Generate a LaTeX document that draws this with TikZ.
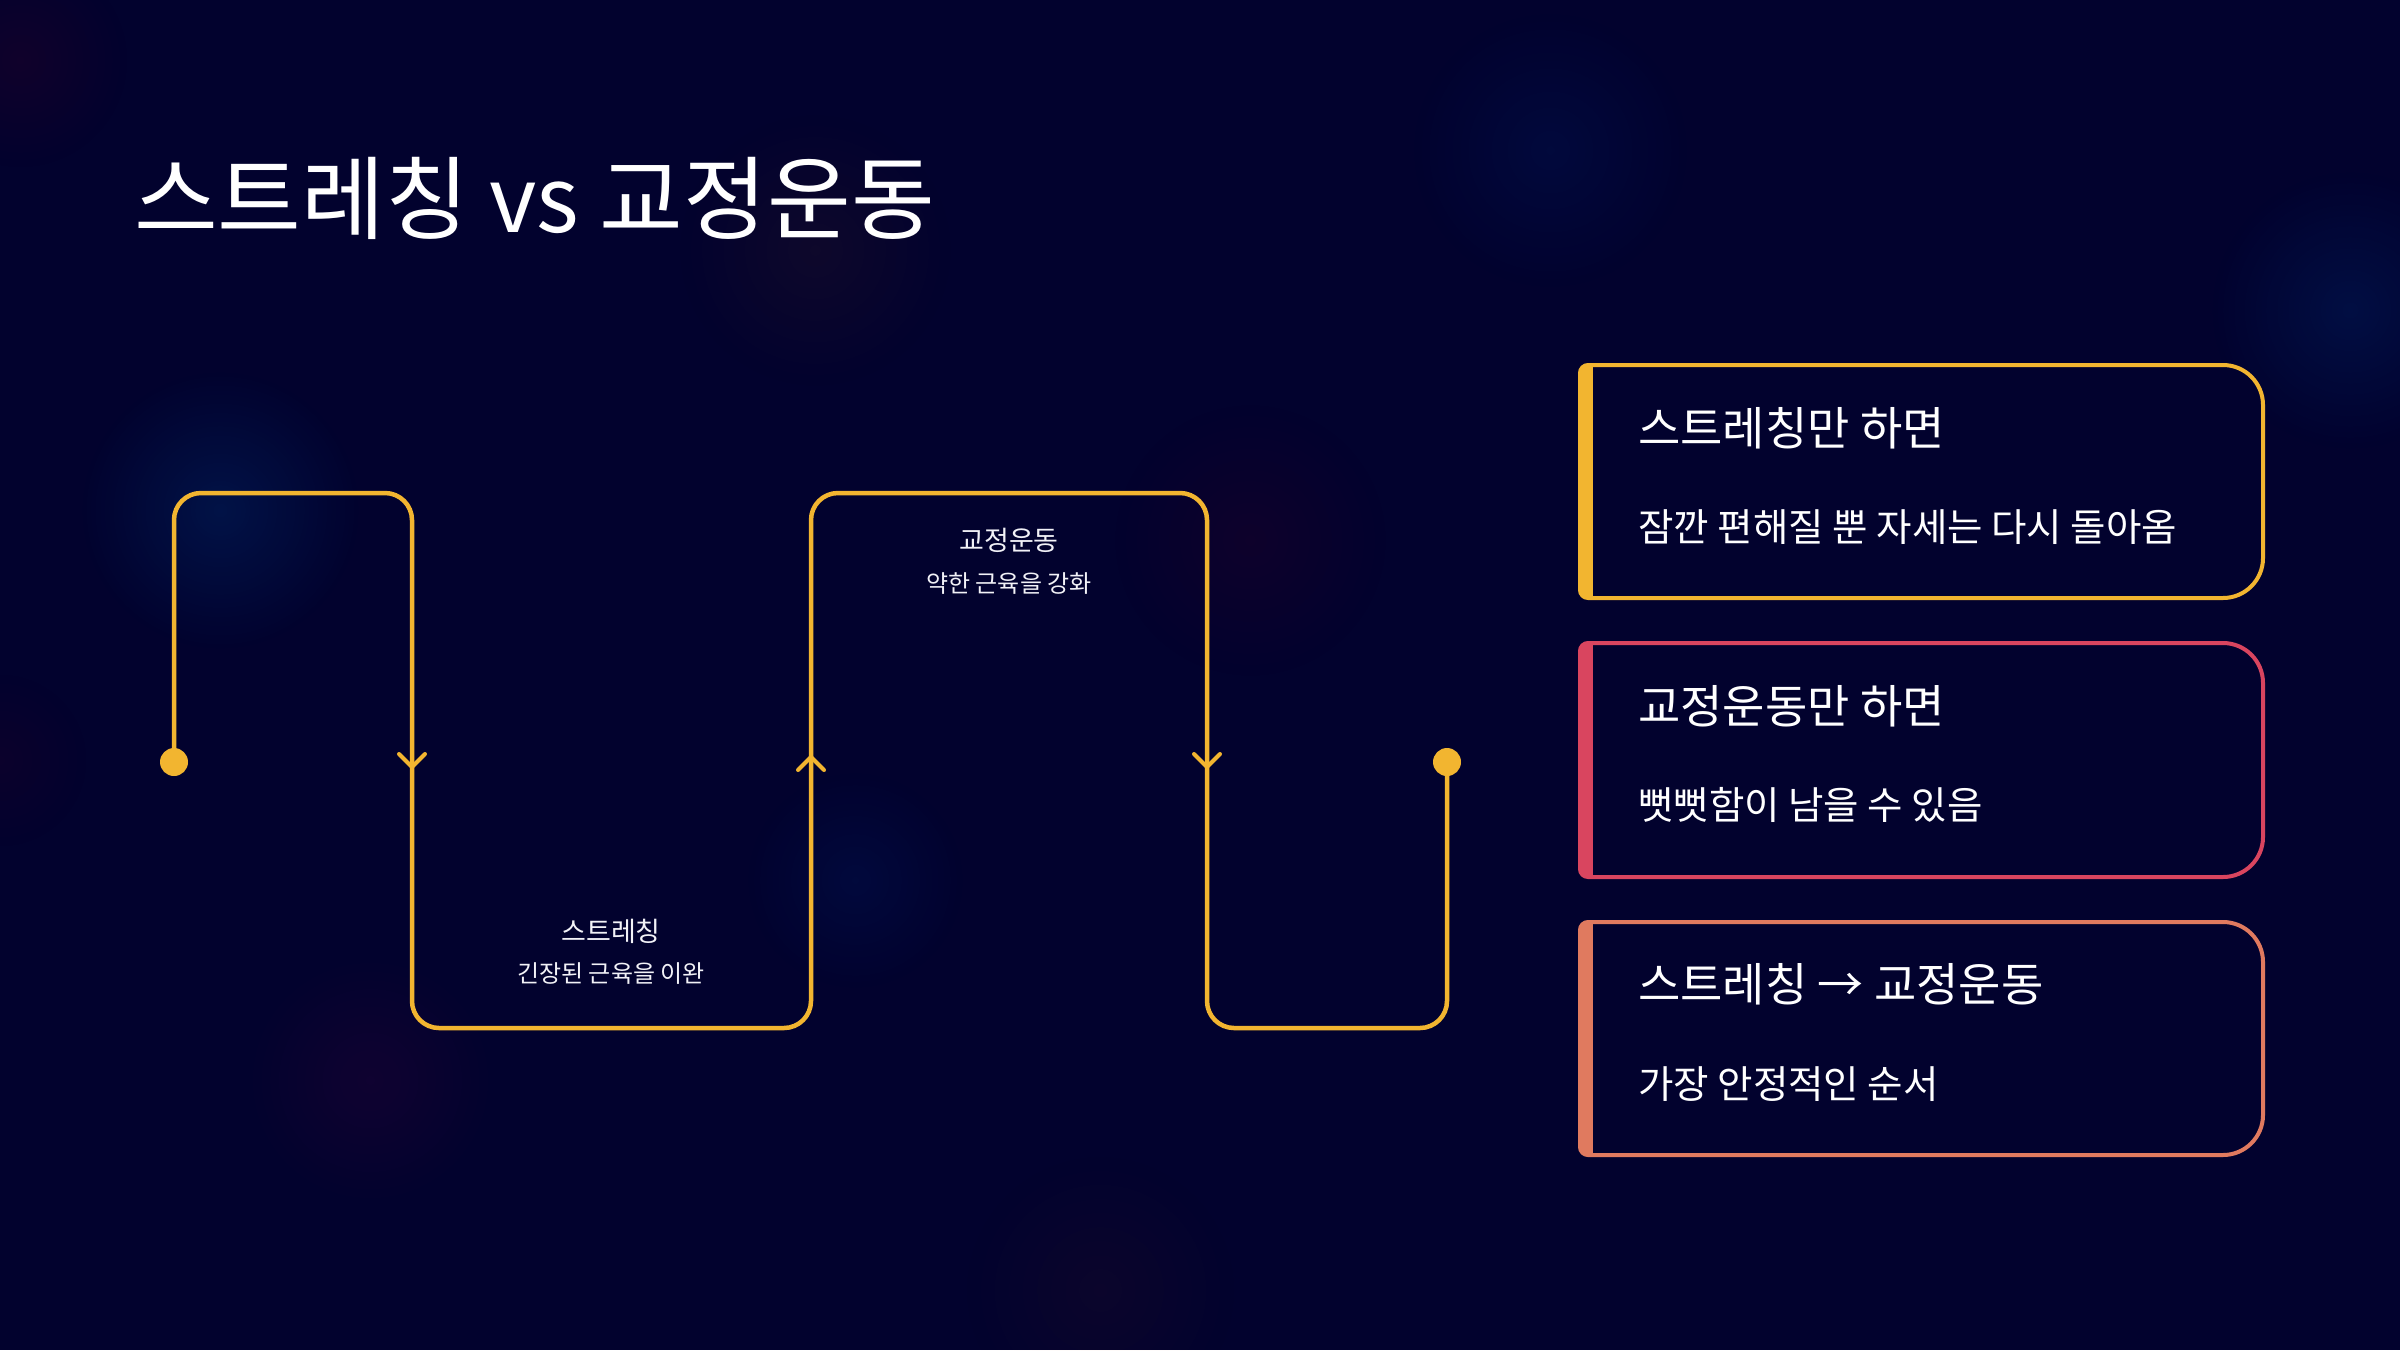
\documentclass[tikz,border=0pt]{standalone}
\usepackage{fontspec}
\setmainfont{Noto Sans CJK KR}
\usetikzlibrary{fadings}
\definecolor{bg}{HTML}{02022E}
\definecolor{yl}{HTML}{F2B530}
\definecolor{rd}{HTML}{D9455F}
\definecolor{og}{HTML}{E07A5F}
\definecolor{txt}{HTML}{F2F2F7}
\tikzfading[name=glowfade, inner color=transparent!0, outer color=transparent!100]
\tikzset{
  snake/.style={draw=yl, line width=4.5pt, rounded corners=27pt, line join=round},
  chev/.style={draw=yl, line width=4pt, line cap=round, line join=round},
  enddot/.style={circle, fill=yl, minimum size=28pt, inner sep=0pt},
  pathtitle/.style={text=txt, font=\fontsize{27pt}{32pt}\selectfont, inner sep=0pt},
  pathsub/.style={text=txt, font=\fontsize{24pt}{28pt}\selectfont, inner sep=0pt},
  cardtitle/.style={text=white, font=\fontsize{46pt}{54pt}\selectfont, anchor=west, inner sep=0pt},
  cardsub/.style={text=white, font=\fontsize{38.5pt}{44pt}\selectfont, anchor=west, inner sep=0pt},
  glow/.style={fill=#1, path fading=glowfade}
}
\newcommand{\cardshape}[4]{% L T R B
  (#1+8,#2) -- (#3-40,#2) arc[start angle=-90,end angle=0,radius=40]
  -- (#3,#4-40) arc[start angle=0,end angle=90,radius=40]
  -- (#1+8,#4) arc[start angle=90,end angle=180,radius=8]
  -- (#1,#2+8) arc[start angle=180,end angle=270,radius=8] -- cycle}
\newcommand{\drawcard}[5]{% L T R B color
  \fill[bg] \cardshape{#1}{#2}{#3}{#4};
  \begin{scope}
    \clip \cardshape{#1}{#2}{#3}{#4};
    \fill[#5] (#1-10,#2-10) rectangle (#1+13,#4+10);
  \end{scope}
  \draw[#5, line width=4pt] \cardshape{#1}{#2}{#3}{#4};}
\begin{document}
\begin{tikzpicture}[x=1pt,y=-1pt]
\fill[bg] (0,0) rectangle (2400,1350);
\useasboundingbox (0,0) rectangle (2400,1350);
% soft background glows
\fill[glow=blue!45!cyan, fill opacity=0.12] (220,510) circle (140);
\fill[glow=magenta!60!red, fill opacity=0.06] (370,1080) circle (130);
\fill[glow=orange, fill opacity=0.05] (815,250) circle (140);
\fill[glow=red, fill opacity=0.05] (1250,540) circle (140);
\fill[glow=blue!60!cyan, fill opacity=0.07] (1550,150) circle (140);
\fill[glow=blue!50!cyan, fill opacity=0.10] (2350,310) circle (140);
\fill[glow=blue!60!cyan, fill opacity=0.07] (855,880) circle (110);
\fill[glow=orange!70!red, fill opacity=0.04] (1100,1290) circle (140);
\fill[glow=red, fill opacity=0.06] (20,60) circle (110);
\fill[glow=red, fill opacity=0.04] (0,760) circle (90);

% title
\node[anchor=west, text=white, inner sep=0pt, font=\fontsize{91pt}{108pt}\selectfont] (title) at (134,198) {스트레칭 vs 교정운동};

% snake path
\node[enddot] (start) at (174,762) {};
\node[enddot] (finish) at (1447,762) {};
\coordinate (p1) at (174,493);
\coordinate (p2) at (412,493);
\coordinate (p3) at (412,1028);
\coordinate (p4) at (811,1028);
\coordinate (p5) at (811,493);
\coordinate (p6) at (1207,493);
\coordinate (p7) at (1207,1028);
\coordinate (p8) at (1447,1028);
\draw[snake] (start.center) -- (p1) -- (p2) -- (p3) -- (p4) -- (p5) -- (p6) -- (p7) -- (p8) -- (finish.center);
\coordinate (a1) at (412,767);
\coordinate (a2) at (811,757);
\coordinate (a3) at (1207,767);
\draw[chev] ([shift={(-13,-13)}]a1) -- (a1) -- ([shift={(13,-13)}]a1);
\draw[chev] ([shift={(-13,13)}]a2) -- (a2) -- ([shift={(13,13)}]a2);
\draw[chev] ([shift={(-13,-13)}]a3) -- (a3) -- ([shift={(13,-13)}]a3);

% path labels
\node[pathtitle] (l1t) at (611,931) {스트레칭};
\node[pathsub] (l1s) at (611,974) {긴장된 근육을 이완};
\node[pathtitle] (l2t) at (1009,540) {교정운동};
\node[pathsub] (l2s) at (1009,583) {약한 근육을 강화};

% cards
\drawcard{1580}{365}{2263}{598}{yl}
\drawcard{1580}{643}{2263}{877}{rd}
\drawcard{1580}{922}{2263}{1155}{og}
\node[cardtitle] (c1t) at (1638,428) {스트레칭만 하면};
\node[cardsub] (c1s) at (1638,527) {잠깐 편해질 뿐 자세는 다시 돌아옴};
\node[cardtitle] (c2t) at (1638,706) {교정운동만 하면};
\node[cardsub] (c2s) at (1638,805) {뻣뻣함이 남을 수 있음};
\node[cardtitle] (c3t) at (1638,984) {스트레칭 → 교정운동};
\node[cardsub] (c3s) at (1638,1084) {가장 안정적인 순서};
\end{tikzpicture}
\end{document}
